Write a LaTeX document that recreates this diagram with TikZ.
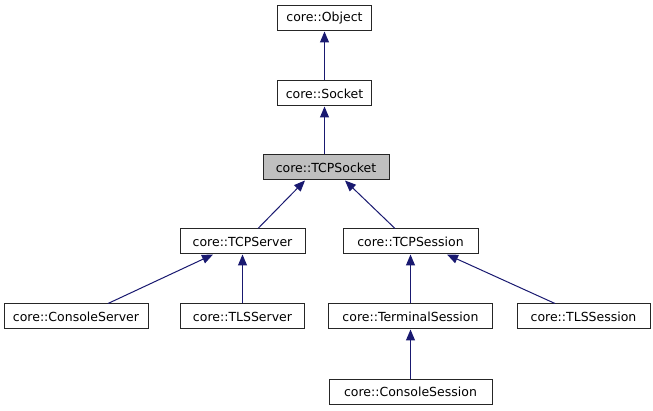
\documentclass[tikz,border=0pt]{standalone}
\usepackage{fontspec}
\setmainfont{DejaVu Sans}
\usetikzlibrary{arrows.meta}
\definecolor{edgeblue}{HTML}{191970}
\definecolor{boxgray}{HTML}{BFBFBF}
\begin{document}
\begin{tikzpicture}[x=1pt,y=-1pt,
  cls/.style={draw=black!85,line width=1pt,fill=white,minimum height=25pt,inner sep=0pt,
    font=\fontsize{12.5}{15}\selectfont},
  inh/.style={draw=edgeblue,line width=1pt,-{Triangle[length=11pt,width=9pt]}}]
\useasboundingbox (0,0) rectangle (653,411);
\node[cls,minimum width=94pt] (object) at (324.5,18.5) {core::Object};
\node[cls,minimum width=94pt] (socket) at (324.5,93.5) {core::Socket};
\node[cls,minimum width=126pt,fill=boxgray] (tcpsocket) at (326,167.5) {core::TCPSocket};
\node[cls,minimum width=125pt] (tcpserver) at (242.5,241.5) {core::TCPServer};
\node[cls,minimum width=135pt] (tcpsession) at (410.5,241.5) {core::TCPSession};
\node[cls,minimum width=144pt] (consoleserver) at (76,316.5) {core::ConsoleServer};
\node[cls,minimum width=124pt] (tlsserver) at (242.5,316.5) {core::TLSServer};
\node[cls,minimum width=164pt] (terminalsession) at (410.5,316.5) {core::TerminalSession};
\node[cls,minimum width=133pt] (tlssession) at (583.5,316.5) {core::TLSSession};
\node[cls,minimum width=163pt] (consolesession) at (410.5,391.5) {core::ConsoleSession};
\draw[inh] (socket) -- (object);
\draw[inh] (tcpsocket.north -| socket) -- (socket);
\draw[inh] ([xshift=15.5pt]tcpserver.north) -- ([xshift=-21pt]tcpsocket.south);
\draw[inh] ([xshift=-15.5pt]tcpsession.north) -- ([xshift=19pt]tcpsocket.south);
\draw[inh] ([xshift=32pt]consoleserver.north) -- ([xshift=-29.5pt]tcpserver.south);
\draw[inh] (tlsserver) -- (tcpserver);
\draw[inh] (terminalsession) -- (tcpsession);
\draw[inh] ([xshift=-28.5pt]tlssession.north) -- ([xshift=36.5pt]tcpsession.south);
\draw[inh] (consolesession) -- (terminalsession);
\end{tikzpicture}
\end{document}
